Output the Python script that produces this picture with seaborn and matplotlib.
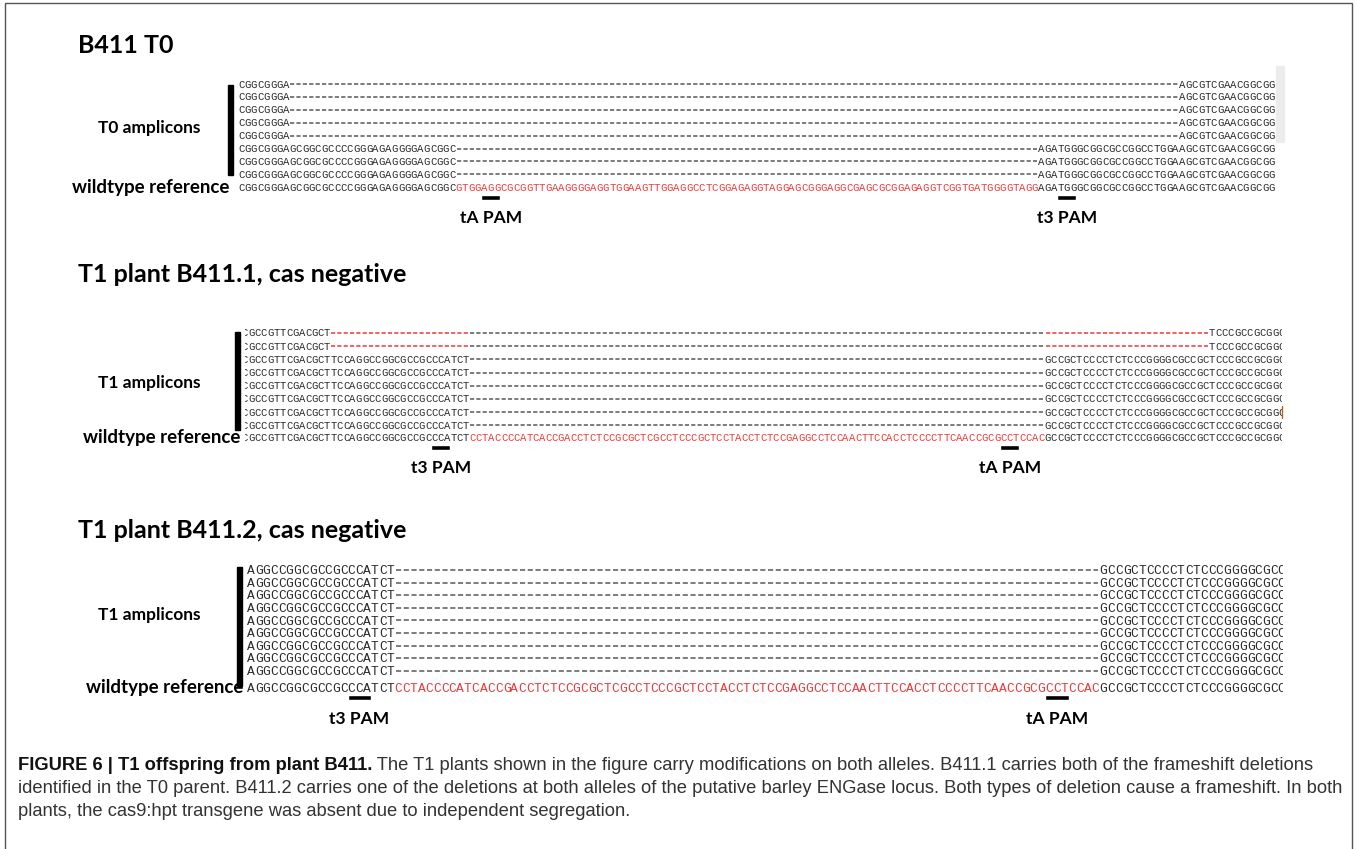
import matplotlib
matplotlib.use("Agg")
import matplotlib.pyplot as plt
from matplotlib.patches import Rectangle
import seaborn as sns

W, H, DPI = 1357, 849, 100

# wildtype locus around the two targets (T0 strand)
T0_LEFT = "CGGCGGGAGCGGCGCCCCGGGAGAGGGGAGCGGC"
T0_CUT = ("GTGGAGGCGCGGTTGAAGGGGAGGTGGAAGTTGGAGGCCTCGGAGAGGTAGGAGCGGGAGG"
          "CGAGCGCGGAGAGGTCGGTGATGGGGTAGG")
T0_RIGHT = "AGATGGGCGGCGCCGGCCTGGAAGCGTCGAACGGCGG"
# amplicons: (kept left, kept right, number of reads)
T0_AMPLICONS = [("CGGCGGGA", "AGCGTCGAACGGCGG", 5),
                ("CGGCGGGAGCGGCGCCCCGGGAGAGGGGAGCGGC",
                 "AGATGGGCGGCGCCGGCCTGGAAGCGTCGAACGGCGG", 3)]
T0_PAMS = [("tA PAM", 38), ("t3 PAM", 128)]

# same locus, opposite strand (T1 alignments)
T1_LEFT = "CCGCCGTTCGACGCTTCCAGGCCGGCGCCGCCCATCT"
T1_CUT = ("CCTACCCCATCACCGACCTCTCCGCGCTCGCCTCCCGCTCCTACCTCTCCGAGGCCTCCAAC"
          "TTCCACCTCCCCTTCAACCGCGCCTCCAC")
T1_RIGHT = "GCCGCTCCCCTCTCCCGGGGCGCCGCTCCCGCCGCGGC"
B4111_AMPLICONS = [("CCGCCGTTCGACGCT", "TCCCGCCGCGGC", 2),
                   ("CCGCCGTTCGACGCTTCCAGGCCGGCGCCGCCCATCT",
                    "GCCGCTCCCCTCTCCCGGGGCGCCGCTCCCGCCGCGGC", 6)]
B4111_PAMS = [("t3 PAM", 31), ("tA PAM", 121)]

B4112_LEFT = "AGGCCGGCGCCGCCCATCT"
B4112_RIGHT = "GCCGCTCCCCTCTCCCGGGGCGCC"
B4112_AMPLICONS = [("AGGCCGGCGCCGCCCATCT", "GCCGCTCCCCTCTCCCGGGGCGCC", 9)]
B4112_PAMS = [("t3 PAM", 13), ("tA PAM", 103)]

TITLES = ["B411 T0", "T1 plant B411.1, cas negative", "T1 plant B411.2, cas negative"]
GROUP_LABELS = ["T0 amplicons", "T1 amplicons", "T1 amplicons"]
CAPTION_BOLD = "FIGURE 6 | T1 offspring from plant B411."
CAPTION_LINES = [
    " The T1 plants shown in the figure carry modifications on both alleles. "
    "B411.1 carries both of the frameshift deletions",
    "identified in the T0 parent. B411.2 carries one of the deletions at both alleles "
    "of the putative barley ENGase locus. Both types of deletion cause a frameshift. In both",
    "plants, the cas9:hpt transgene was absent due to independent segregation.",
]

SEQ_COL = {"k": "#2a2a2a", "g": "#6c6c6c", "r": "#f03a3a"}

sns.set_theme(style="white")
plt.rcParams["font.family"] = ["Lato", "DejaVu Sans"]
plt.rcParams["lines.scale_dashes"] = False

fig = plt.figure(figsize=(W / DPI, H / DPI), dpi=DPI)
ax = fig.add_axes([0, 0, 1, 1])
ax.set_xlim(0, W)
ax.set_ylim(H, 0)
ax.axis("off")


def build_rows(left, cut, right, amplicons, red_flank):
    n = len(left) + len(cut) + len(right)
    rows = []
    for kl, kr, count in amplicons:
        gap = n - len(kl) - len(kr)
        cols = ""
        for c in range(len(kl), len(kl) + gap):
            inside = len(left) <= c < len(left) + len(cut)
            cols += "r" if (red_flank and not inside) else "g"
        for _ in range(count):
            rows.append((kl + "-" * gap + kr, "k" * len(kl) + cols + "k" * len(kr)))
    rows.append((left + cut + right, "k" * len(left) + "r" * len(cut) + "k" * len(right)))
    return rows


def seq_block(box, x0, cw, rows, ys, pams, pam_y, pam_label_y):
    left, top, right, bottom = box
    sax = fig.add_axes([left / W, 1 - bottom / H, (right - left) / W, (bottom - top) / H])
    sax.axis("off")
    fs = cw / 0.6 * 72 / DPI
    em = fs * DPI / 72
    on, off = 0.66 * cw * 0.72, 0.34 * cw * 0.72
    for (seq, cols), y in zip(rows, ys):
        start = 0
        for i in range(1, len(seq) + 1):
            if i < len(seq) and cols[i] == cols[start] and (seq[i] == "-") == (seq[start] == "-"):
                continue
            color = SEQ_COL[cols[start]]
            if seq[start] == "-":
                # alignment gap: a run of short dashes, one per column
                sax.plot([start + 0.17, i - 0.17], [y, y],
                         color="#f05050" if cols[start] == "r" else color,
                         lw=1.25, ls=(0, (on, off)), dash_capstyle="butt")
            else:
                for c in range(start, i):
                    sax.text(c + 0.5, y + 0.33 * em, seq[c], color=color, fontsize=fs,
                             family="Liberation Mono", ha="center", va="baseline",
                             clip_on=True)
            start = i
    for label, col in pams:
        sax.barh(pam_y, 3, left=col, height=5, color="black")
        ax.text(x0 + (col + 1.5) * cw, pam_label_y, label, fontsize=12.5,
                fontweight="bold", ha="center", va="center", color="black")
    sax.set_xlim((left - x0) / cw, (right - x0) / cw)
    sax.set_ylim(bottom, top)


# panel geometry (pixels)
panels = [
    dict(rows=build_rows(T0_LEFT, T0_CUT, T0_RIGHT, T0_AMPLICONS, False),
         y0=84, dy=12.9, ref_gap=13, x0=238, cw=6.4, clip=(236, 1285),
         pams=T0_PAMS, title_y=45, label_y=128, bar_x=230, bar=(85, 175), wt_right=229),
    dict(rows=build_rows(T1_LEFT, T1_CUT, T1_RIGHT, B4111_AMPLICONS, True),
         y0=333, dy=13.2, ref_gap=12, x0=235.5, cw=6.32, clip=(245, 1282),
         pams=B4111_PAMS, title_y=275, label_y=383, bar_x=237, bar=(332, 430), wt_right=240),
    dict(rows=build_rows(B4112_LEFT, T1_CUT, B4112_RIGHT, B4112_AMPLICONS, False),
         y0=570, dy=12.6, ref_gap=17, x0=247, cw=7.75, clip=(246, 1283),
         pams=B4112_PAMS, title_y=530, label_y=615, bar_x=239, bar=(567, 686), wt_right=243),
]

for p, title, glabel in zip(panels, TITLES, GROUP_LABELS):
    n_amp = len(p["rows"]) - 1
    ys = [p["y0"] + i * p["dy"] for i in range(n_amp)]
    ref_y = ys[-1] + p["ref_gap"]
    ys.append(ref_y)
    seq_block((p["clip"][0], p["y0"] - 10, p["clip"][1], ref_y + 16),
              p["x0"], p["cw"], p["rows"], ys, p["pams"], ref_y + 10, ref_y + 31)
    ax.text(78, p["title_y"], title, fontsize=18, fontweight="bold", va="center",
            ha="left", color="black")
    ax.text(200, p["label_y"], glabel, fontsize=12.5, fontweight="bold",
            va="center", ha="right", color="black")
    ax.text(p["wt_right"], ref_y, "wildtype reference", fontsize=13.5, fontweight="bold",
            va="center", ha="right", color="black")
    ax.add_patch(Rectangle((p["bar_x"] - 2.5, p["bar"][0]), 5, p["bar"][1] - p["bar"][0],
                           color="black"))

# selection artefact and cursor mark from the alignment screenshots
ax.add_patch(Rectangle((1276, 66), 8, 76, color="#ececec", zorder=0))
ax.plot([1282, 1282], [406, 418], color="#b5651d", lw=1)

# frame
ax.add_patch(Rectangle((5, 3), W - 10, H + 20, fill=False, edgecolor="#555555", lw=1))

# caption
renderer = fig.canvas.get_renderer()
cap_x, cap_y, cap_fs = 18, [770, 793, 816], 13.2
bold = ax.text(cap_x, cap_y[0], CAPTION_BOLD, fontsize=cap_fs, fontweight="bold",
               family="Liberation Sans", va="baseline", ha="left", color="#111111")
bw = bold.get_window_extent(renderer).width
ax.text(cap_x + bw, cap_y[0], CAPTION_LINES[0], fontsize=cap_fs, family="Liberation Sans",
        va="baseline", ha="left", color="#333333")
for line, y in zip(CAPTION_LINES[1:], cap_y[1:]):
    ax.text(cap_x, y, line, fontsize=cap_fs, family="Liberation Sans", va="baseline",
            ha="left", color="#333333")

fig.savefig("out.png", dpi=DPI)
